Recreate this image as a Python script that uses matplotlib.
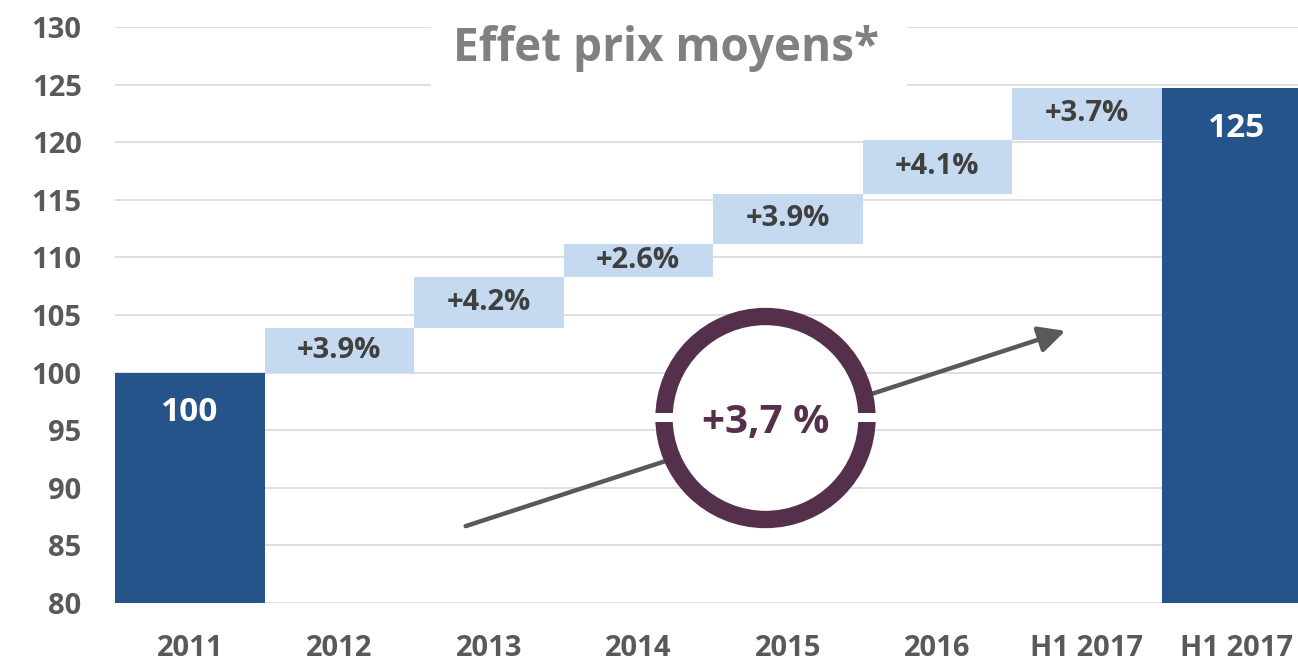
import matplotlib
matplotlib.use("Agg")
import matplotlib.pyplot as plt
from matplotlib.patches import Ellipse, Rectangle, FancyArrowPatch

# ---- data ----
categories = ["2011", "2012", "2013", "2014", "2015", "2016", "H1 2017", "H1 2017"]
# cumulative index levels (start 100 -> end ~124.7)
levels = [100.0, 103.9, 108.3, 111.2, 115.5, 120.2, 124.7]
step_labels = ["+3.9%", "+4.2%", "+2.6%", "+3.9%", "+4.1%", "+3.7%"]
total_labels = ["100", "125"]
yticks = [80, 85, 90, 95, 100, 105, 110, 115, 120, 125, 130]
cagr_label = "+3,7 %"
title = "Effet prix moyens*"

# ---- style ----
DARK = "#24548A"
LIGHT = "#C5DAF0"
PURPLE = "#55304D"
TICK = "#595959"
LBL = "#404040"
FONT = "Open Sans"

W, H = 1298, 664
fig = plt.figure(figsize=(W / 100, H / 100), dpi=100)
ax = fig.add_axes([115 / W, 1 - 603 / H, (W - 115) / W, (603 - 27) / H])

base = yticks[0]
n = len(categories)
x = list(range(n))

# totals
ax.bar(x[0], levels[0] - base, bottom=base, width=1.0, color=DARK, zorder=3)
ax.bar(x[-1], levels[-1] - base, bottom=base, width=1.0, color=DARK, zorder=3)
# floating steps
for i in range(1, n - 1):
    lo, hi = levels[i - 1], levels[i]
    ax.bar(x[i], hi - lo, bottom=lo, width=1.0, color=LIGHT, zorder=3)
    ax.text(x[i], (lo + hi) / 2, step_labels[i - 1], ha="center", va="center",
            fontsize=21, fontweight="bold", color=LBL, family=FONT, zorder=4)

# total labels
for xi, val, lab in [(x[0], levels[0], total_labels[0]), (x[-1], levels[-1], total_labels[1])]:
    ax.annotate(lab, (xi, val), xytext=(0, -40), textcoords="offset pixels",
                ha="center", va="center", fontsize=24, fontweight="bold",
                color="white", family=FONT, zorder=4)

ax.set_ylim(yticks[0], yticks[-1])
ax.set_xlim(-0.5, n - 0.5 - 13 / 149.5)
ax.set_yticks(yticks)
ax.set_xticks(x)
ax.set_xticklabels(categories)
for sp in ax.spines.values():
    sp.set_visible(False)
ax.grid(axis="y", color="#D9D9D9", linewidth=1.2, zorder=0)
ax.set_axisbelow(True)
ax.tick_params(axis="both", length=0, colors=TICK)
ax.tick_params(axis="y", pad=24)
ax.tick_params(axis="x", pad=22)
for lab in ax.get_xticklabels() + ax.get_yticklabels():
    lab.set_fontsize(21)
    lab.set_fontweight("bold")
    lab.set_family(FONT)
    lab.set_color(TICK)

# ---- decorations (figure pixel coordinates) ----
def fx(px):
    return px / W

def fy(py):
    return 1 - py / H

# title box
fig.patches.append(Rectangle((fx(431), fy(95)), fx(907) - fx(431), fy(8) - fy(95),
                             transform=fig.transFigure, facecolor="white",
                             edgecolor="none", zorder=5))
fig.text(fx(666), fy(48), title, ha="center", va="center", fontsize=33,
         fontweight="bold", color="#808080", family=FONT, zorder=6)

# arrow
arr = FancyArrowPatch((fx(463), fy(527)), (fx(1068), fy(330)),
                      transform=fig.transFigure, arrowstyle="-|>,head_length=10,head_width=5",
                      color="#595959", linewidth=3.2, zorder=6, mutation_scale=1.6)
fig.patches.append(arr)

# circle
cx, cy, r = 765.5, 418, 101.5
fig.patches.append(Ellipse((fx(cx), fy(cy)), 2 * r / W, 2 * r / H,
                           transform=fig.transFigure, facecolor="white",
                           edgecolor=PURPLE, linewidth=12.5, zorder=7))
# small white gaps in the ring
for gx0, gx1 in [(654, 673), (858, 877)]:
    fig.patches.append(Rectangle((fx(gx0), fy(422)), fx(gx1) - fx(gx0), fy(413) - fy(422),
                                 transform=fig.transFigure, facecolor="white",
                                 edgecolor="none", zorder=8))
fig.text(fx(cx), fy(cy + 4), cagr_label, ha="center", va="center", fontsize=29,
         fontweight="bold", color=PURPLE, family=FONT, zorder=9)

fig.savefig("out.png", dpi=100)
